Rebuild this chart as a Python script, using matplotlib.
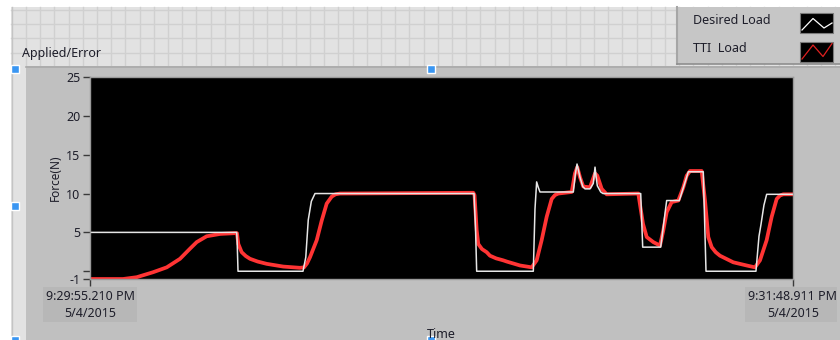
import matplotlib
matplotlib.use("Agg")
import matplotlib.pyplot as plt
from matplotlib.patches import Rectangle

# Seconds elapsed since 9:29:55.210 PM, force in newtons
desired_t = [0, 23.73, 23.80, 23.94, 34.45, 34.9, 35.3, 35.8, 36.39, 62.11, 62.35, 62.54,
             71.70, 71.97, 72.24, 72.5, 72.78, 78.17, 78.50, 78.77, 79.25, 79.70, 80.06,
             80.87, 81.40, 81.68, 81.85, 82.05, 82.60, 82.97, 89.07, 89.39, 92.30, 93.27,
             95.31, 96.77, 99.19, 99.63, 107.71, 108.20, 108.52, 109.0, 109.44, 113.70]
desired_f = [5, 5, 3.8, 0, 0, 1.8, 6.6, 9.0, 10, 10, 5.6, 0,
             0, 8.0, 11.5, 10.8, 10.2, 10.2, 12.5, 13.8, 12.1, 10.9, 10.6,
             10.6, 11.3, 13.4, 12.2, 11.0, 10.2, 10.0, 10.0, 3.1, 3.1, 9.1,
             9.1, 12.8, 12.8, 0, 0, 4.5, 6.0, 8.5, 9.9, 9.9]

tti_t = [0, 5.34, 7.55, 10.19, 12.41, 14.56, 16.17, 17.26, 18.87, 21.03, 23.45, 23.77,
         23.99, 24.30, 24.53, 25.20, 25.88, 27.10, 28.58, 31.26, 33.96, 34.61, 35.10, 35.58,
         36.67, 37.47, 38.28, 39.09, 39.70, 40.43, 61.99, 62.19, 62.54, 62.80, 63.40, 64.16,
         64.69, 65.70, 66.84, 67.39, 69.55, 71.44, 72.24, 73.05, 73.86, 74.67, 75.20, 75.74,
         77.91, 78.44, 78.81, 79.25, 79.78, 80.87, 81.68, 82.05, 82.76, 83.57, 88.68, 89.44,
         90.04, 91.11, 92.19, 92.72, 93.27, 94.08, 95.15, 95.96, 96.51, 97.04, 98.93, 99.47,
         100.00, 100.55, 101.20, 101.89, 104.04, 106.21, 107.55, 108.36, 109.44, 110.25,
         111.06, 111.60, 112.13, 113.70]
tti_f = [-1, -1, -0.77, -0.13, 0.5, 1.6, 2.9, 3.75, 4.5, 4.8, 4.9, 4.9,
         3.5, 2.9, 2.45, 1.95, 1.6, 1.25, 0.95, 0.6, 0.44, 0.5, 1.0, 1.8,
         4.0, 6.5, 8.7, 9.6, 9.9, 10.0, 10.1, 9.8, 5.3, 3.5, 2.85, 2.45,
         2.0, 1.65, 1.4, 1.25, 0.74, 0.5, 1.4, 4.0, 7.0, 9.3, 9.8, 10.0,
         10.2, 12.6, 13.4, 12.1, 10.9, 10.8, 12.6, 12.3, 10.6, 9.9, 10.0, 6.1,
         4.4, 3.75, 3.3, 5.25, 7.6, 8.9, 9.1, 10.8, 12.3, 12.9, 12.9, 9.1,
         4.4, 3.1, 2.45, 2.0, 1.15, 0.74, 0.5, 1.4, 4.0, 7.0,
         9.3, 9.75, 9.9, 9.9]

span = 113.701
x_tick_labels = ["9:29:55.210 PM\n5/4/2015", "9:31:48.911 PM\n5/4/2015"]
y_ticks = [25, 20, 15, 10, 5, 0, -1]
y_tick_labels = ["25", "20", "15", "10", "5", "", "-1"]

plt.rcParams['font.family'] = ['Noto Sans', 'DejaVu Sans']
text_color = '#1e1e2a'

fig = plt.figure(figsize=(8.4, 3.4), dpi=100)
fig.patch.set_facecolor('white')

# front panel backdrop, laid out in pixels
bg = fig.add_axes([0, 0, 1, 1], zorder=0)
bg.set_xlim(0, 840)
bg.set_ylim(340, 0)
bg.axis('off')
bg.add_patch(Rectangle((11, 7), 829, 333, facecolor='#e2e2e2', edgecolor='none', zorder=0))
gx = 26.0
while gx < 840:
    bg.plot([gx, gx], [7, 66], color='#d0d0d0', lw=1, zorder=0.5)
    gx += 14.2
for gy in [10, 24.2, 38.4, 52.6]:
    bg.plot([11, 840], [gy, gy], color='#d0d0d0', lw=1, zorder=0.5)
bg.plot([11.5, 11.5], [7, 340], color='#c4c4c4', lw=1, zorder=0.6)

# graph panel
bg.add_patch(Rectangle((26, 66), 814, 274, facecolor='#c0c0c0', edgecolor='none', zorder=1))
bg.plot([26, 840], [66.5, 66.5], color='#aaaaaa', lw=1.2, zorder=1.1)
bg.add_patch(Rectangle((43, 287), 94, 35, facecolor='#b7b7b7', edgecolor='none', zorder=1.2))
bg.add_patch(Rectangle((745, 287), 92, 35, facecolor='#b7b7b7', edgecolor='none', zorder=1.2))

bg.text(22, 53, 'Applied/Error', fontsize=9, color=text_color, va='center', zorder=3)

# plot legend
bg.add_patch(Rectangle((677, 7), 163, 57, facecolor='#c6c6c6', edgecolor='none', zorder=2))
bg.plot([677, 677], [7, 64], color='#a6a6a6', lw=1.5, zorder=2.1)
bg.plot([677, 840], [64, 64], color='#8e8e8e', lw=1.2, zorder=2.1)
bg.text(693, 20, 'Desired Load', fontsize=9, color=text_color, va='center', zorder=3)
bg.text(693, 48, 'TTI  Load', fontsize=9, color=text_color, va='center', zorder=3)
bg.add_patch(Rectangle((800, 12.5), 33, 20, facecolor='black', edgecolor='#7a7a7a',
                       lw=0.8, zorder=2.5))
bg.add_patch(Rectangle((800, 41.5), 33, 20, facecolor='black', edgecolor='#7a7a7a',
                       lw=0.8, zorder=2.5))
bg.plot([802, 813, 824, 832], [30, 18.5, 28, 23], color='white', lw=0.9, zorder=3)
bg.plot([802, 813, 823, 832], [59, 45, 56.5, 43.5], color='#e02020', lw=0.9, zorder=3)

# selection handles
for hx, hy in [(14.5, 69), (431, 69), (14.5, 205.5), (14.5, 340), (431, 340)]:
    bg.add_patch(Rectangle((hx - 4, hy - 4), 8, 8, facecolor='#3a96f2',
                           edgecolor='white', lw=1, clip_on=False, zorder=4))

# waveform chart
ax = fig.add_axes([90 / 840, 61 / 340, 703 / 840, 202 / 340], zorder=2)
ax.set_facecolor('black')
ax.plot(tti_t, tti_f, color='#ff3434', lw=2.7, solid_joinstyle='round')
ax.plot(desired_t, desired_f, color='#e6e6e6', lw=1.1)
ax.set_xlim(0, span)
ax.set_ylim(-1, 25)

ax.set_yticks(y_ticks)
ax.set_yticklabels(y_tick_labels)
ax.set_xticks([0, span])
ax.set_xticklabels(x_tick_labels, linespacing=1.35)
ax.tick_params(axis='y', direction='out', length=5, width=1, color='#3a3a3a',
               labelsize=9, labelcolor=text_color, pad=2)
ax.tick_params(axis='x', direction='out', length=5, width=1, color='#3a3a3a',
               labelsize=9, labelcolor=text_color, pad=3)
for spine in ax.spines.values():
    spine.set_color('#9a9a9a')
    spine.set_linewidth(1)

ax.set_xlabel('Time', fontsize=9, color=text_color, labelpad=6)
ax.set_ylabel('Force(N)', fontsize=8.5, color=text_color, labelpad=3)

fig.savefig('out.png', dpi=100, facecolor=fig.get_facecolor())
